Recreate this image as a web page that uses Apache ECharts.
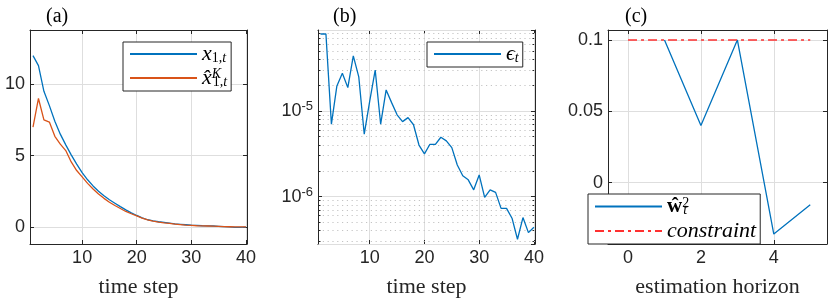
<!DOCTYPE html>
<html><head><meta charset="utf-8">
<script src="https://cdn.jsdelivr.net/npm/echarts@6/dist/echarts.min.js"></script>
<style>html,body{margin:0;padding:0;background:#fff}#c{width:830px;height:302px}</style>
</head><body><div id="c"></div>
<script>
// ---------- data ----------
const timeSteps = [1,2,3,4,5,6,7,8,9,10,11,12,13,14,15,16,17,18,19,20,21,22,23,24,25,26,27,28,29,30,31,32,33,34,35,36,37,38,39,40];
const x1True = [12.0,11.3,9.5,8.5,7.4,6.5,5.75,5.05,4.4,3.8,3.3,2.87,2.5,2.18,1.9,1.66,1.42,1.19,0.98,0.8,0.63,0.5,0.42,0.36,0.31,0.26,0.21,0.18,0.15,0.12,0.1,0.08,0.07,0.06,0.04,0.02,0.0,-0.03,-0.04,-0.02];
const x1Est = [7.0,9.0,7.5,7.35,6.35,5.8,5.35,4.55,3.95,3.5,3.05,2.66,2.31,2.0,1.73,1.5,1.29,1.08,0.92,0.77,0.62,0.49,0.4,0.33,0.28,0.24,0.2,0.16,0.12,0.1,0.08,0.07,0.06,0.05,0.04,0.02,0.01,0.0,0.0,0.0];
const epsT = [7.9e-5,7.9e-5,7.0e-6,1.96e-5,2.75e-5,1.87e-5,4.4e-5,2.5e-5,5.35e-6,1.3e-5,3.0e-5,7.0e-6,1.76e-5,1.25e-5,9.0e-6,7.5e-6,8.35e-6,6.9e-6,4.0e-6,3.15e-6,4.08e-6,4.08e-6,4.93e-6,4.47e-6,3.73e-6,2.34e-6,1.75e-6,1.57e-6,1.2e-6,1.79e-6,9.8e-7,1.2e-6,1.12e-6,7.3e-7,7.3e-7,5.6e-7,3.18e-7,5.7e-7,3.8e-7,4.4e-7];
const horizonSteps = [1,2,3,4,5];
const wHat = [0.1,0.04,0.1,-0.036,-0.0155];
const constraintX = [0,1,2,3,4,5];
const constraintY = [0.1,0.1,0.1,0.1,0.1,0.1];
const xTicksAB = [10,20,30,40];
const yTicksA = [0,5,10];
const xTicksC = [0,2,4];
const yTicksC = [0,0.05,0.1];
const panelTitles = ['(a)','(b)','(c)'];

// ---------- styles ----------
const AX = '#262626', GRID = '#dedede', BLUE = '#0072BD', ORANGE = '#D95319', RED = '#FF3030';
const SANS = 'Liberation Sans', SERIF = 'Liberation Serif';
const LW = 1.3;
const pair = (xs, ys) => xs.map((x, i) => [x, ys[i]]);

function xAxes(gi, min, max, ticks, name, nameGap) {
  const common = { type: 'value', gridIndex: gi, min, max,
    axisLine: { show: true, onZero: false, lineStyle: { color: AX, width: 1 } },
    axisTick: { show: true, inside: true, length: 4, customValues: ticks, lineStyle: { color: AX } } };
  return [
    Object.assign({}, common, { position: 'bottom',
      axisLabel: { customValues: ticks, fontFamily: SANS, fontSize: 18, color: AX, margin: 5 },
      splitLine: { show: true, lineStyle: { color: GRID, width: 1 } },
      name, nameLocation: 'middle', nameGap,
      nameTextStyle: { fontFamily: SERIF, fontSize: 22, color: AX } }),
    Object.assign({}, common, { position: 'top', axisLabel: { show: false }, splitLine: { show: false } })
  ];
}
function yAxesLin(gi, min, max, ticks, fmt) {
  const common = { type: 'value', gridIndex: gi, min, max,
    axisLine: { show: true, onZero: false, lineStyle: { color: AX, width: 1 } },
    axisTick: { show: true, inside: true, length: 4, customValues: ticks, lineStyle: { color: AX } } };
  return [
    Object.assign({}, common, { position: 'left',
      axisLabel: { customValues: ticks, fontFamily: SANS, fontSize: 18, color: AX, margin: 5, formatter: fmt },
      splitLine: { show: true, lineStyle: { color: GRID, width: 1 } } }),
    Object.assign({}, common, { position: 'right', axisLabel: { show: false }, splitLine: { show: false } })
  ];
}
const LOG_MIN = 2.8e-7, LOG_MAX = 8.8e-5;
function yAxesLog(gi, min, max) {
  const lab = v => {
    const l = Math.log10(v), e = Math.round(l);
    if (Math.abs(l - e) > 1e-6) return '';
    return '10{s|' + e + '}';
  };
  const common = { type: 'log', logBase: 10, gridIndex: gi, min, max,
    axisLine: { show: true, onZero: false, lineStyle: { color: AX, width: 1 } },
    axisTick: { show: true, inside: true, length: 4, lineStyle: { color: AX } } };
  return [
    Object.assign({}, common, { position: 'left',
      axisLabel: { fontFamily: SANS, fontSize: 18, color: AX, margin: 5, formatter: lab,
        showMinLabel: false, showMaxLabel: false,
        rich: { s: { fontFamily: SANS, fontSize: 13, color: AX, verticalAlign: 'top', padding: [0, 0, 9, 0] } } },
      splitLine: { show: true, lineStyle: { color: GRID, width: 1 } }, z: 3 }),
    Object.assign({}, common, { position: 'right', axisLabel: { show: false }, splitLine: { show: false }, z: 3 })
  ];
}
// minor log grid positions (2..9 x 10^k), expressed in decades on a helper axis
const minorExp = [];
for (let k = -7; k <= -5; k++) for (let m = 2; m <= 9; m++) {
  const v = m * Math.pow(10, k);
  if (v > LOG_MIN && v < LOG_MAX) minorExp.push(Math.log10(v));
}
function yAxesMinor(gi) {
  const common = { type: 'value', gridIndex: gi, min: Math.log10(LOG_MIN), max: Math.log10(LOG_MAX),
    axisLine: { show: false }, axisLabel: { show: false },
    axisTick: { show: true, inside: true, length: 2.5, customValues: minorExp, lineStyle: { color: AX } } };
  return [
    Object.assign({}, common, { position: 'left',
      splitLine: { show: true, lineStyle: { color: '#c4c4c4', type: [1.2, 3.6], width: 1 } }, z: 1 }),
    Object.assign({}, common, { position: 'right', splitLine: { show: false } })
  ];
}

const legendRich = {
  it: { fontFamily: SERIF, fontStyle: 'italic', fontSize: 22, color: '#000' },
  bw: { fontFamily: SERIF, fontWeight: 'bold', fontSize: 21, color: '#000' },
  sub: { fontFamily: SERIF, fontStyle: 'normal', fontSize: 14, color: '#000', verticalAlign: 'bottom' },
  subi: { fontFamily: SERIF, fontStyle: 'italic', fontSize: 14, color: '#000', verticalAlign: 'bottom' },
  sup: { fontFamily: SERIF, fontStyle: 'italic', fontSize: 14, color: '#000', verticalAlign: 'top', width: 1, padding: [0, 0, 6, 0] },
  supn: { fontFamily: SERIF, fontSize: 14, color: '#000', verticalAlign: 'top', width: 1, padding: [0, 0, 6, 0] }
};
const legendText = {
  x1: '{it|x}{sub|1,}{subi|t}',
  xhat: '{it|x\u0302}{sup|K}{sub|1,}{subi|t}',
  eps: '{it|\u03F5}{subi|t}',
  w: '{bw|\u0175}{supn|2}{subi|t}',
  constraint: '{it|constraint}'
};
function legend(names, left, top, padding, gap) {
  return { data: names, orient: 'vertical', left, top, padding, itemGap: gap,
    itemWidth: 67, itemHeight: 12, borderColor: AX, borderWidth: 1, borderRadius: 0,
    backgroundColor: '#fff', selectedMode: false,
    itemStyle: { opacity: 0, borderWidth: 0 },
    formatter: n => legendText[n], textStyle: { rich: legendRich } };
}

const option = {
  animation: false,
  backgroundColor: '#fff',
  title: panelTitles.map((t, i) => ({ text: t, left: [41, 328, 620][i], top: 2,
    textStyle: { fontFamily: SERIF, fontSize: 20, fontWeight: 'normal', color: '#000' } })),
  grid: [
    { left: 30, top: 30, width: 217, height: 214, containLabel: false, outerBoundsMode: 'none' },
    { left: 318, top: 30, width: 217, height: 214, containLabel: false, outerBoundsMode: 'none' },
    { left: 608, top: 30, width: 219, height: 214, containLabel: false, outerBoundsMode: 'none' }
  ],
  xAxis: [].concat(
    xAxes(0, 0.45, 40.2, xTicksAB, 'time step', 32),
    xAxes(1, 0.55, 40.2, xTicksAB, 'time step', 32),
    xAxes(2, -0.55, 5.46, xTicksC, 'estimation horizon', 32)
  ),
  yAxis: [].concat(
    yAxesLin(0, -1.2, 13.8, yTicksA),
    yAxesLog(1, LOG_MIN, LOG_MAX),
    yAxesLin(2, -0.043, 0.107, yTicksC, v => String(v)),
    yAxesMinor(1)
  ),
  legend: [
    legend(['x1', 'xhat'], 123, 42, [1, 4, 2, 6], 2),
    legend(['eps'], 427, 42, [1, 4, 2, 6], 2),
    legend(['w', 'constraint'], 588, 194, [2, 4, 2, 6], 3)
  ],
  series: [
    { name: 'x1', type: 'line', xAxisIndex: 0, yAxisIndex: 0, data: pair(timeSteps, x1True),
      symbol: 'none', lineStyle: { color: BLUE, width: LW }, itemStyle: { color: BLUE }, z: 3 },
    { name: 'xhat', type: 'line', xAxisIndex: 0, yAxisIndex: 0, data: pair(timeSteps, x1Est),
      symbol: 'none', lineStyle: { color: ORANGE, width: LW }, itemStyle: { color: ORANGE }, z: 4 },
    { name: 'eps', type: 'line', xAxisIndex: 2, yAxisIndex: 2, data: pair(timeSteps, epsT),
      symbol: 'none', lineStyle: { color: BLUE, width: LW }, itemStyle: { color: BLUE }, z: 3 },
    { name: 'w', type: 'line', xAxisIndex: 4, yAxisIndex: 4, data: pair(horizonSteps, wHat),
      symbol: 'none', lineStyle: { color: BLUE, width: LW }, itemStyle: { color: BLUE }, z: 3 },
    { name: 'constraint', type: 'line', xAxisIndex: 4, yAxisIndex: 4, data: pair(constraintX, constraintY),
      symbol: 'none', lineStyle: { color: RED, width: 1.5, type: [9, 4, 3, 4] }, itemStyle: { color: RED }, z: 4 }
  ]
};
const chart = echarts.init(document.getElementById('c'), null, { renderer: 'canvas' });
chart.setOption(option);
</script></body></html>
